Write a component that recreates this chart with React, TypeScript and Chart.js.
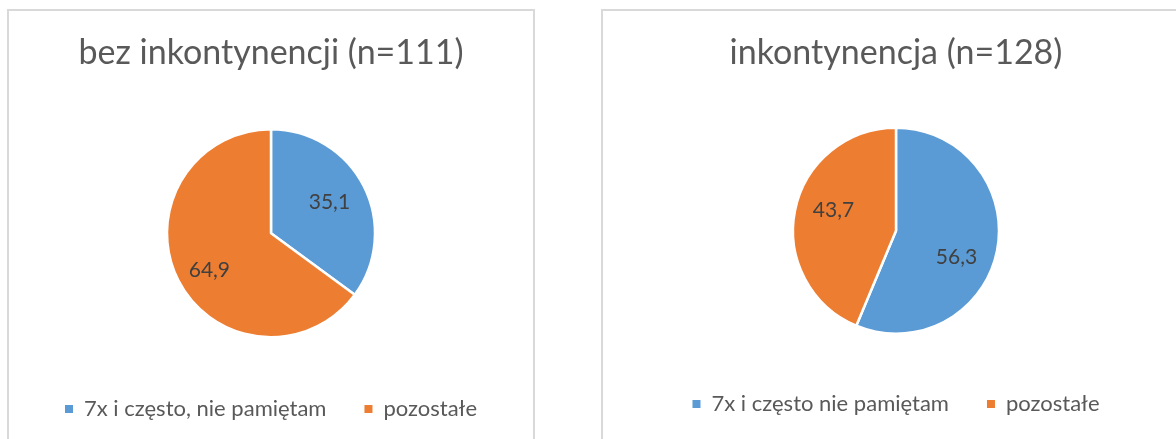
import React, { useEffect, useRef } from "react";
import { Chart, registerables } from "chart.js";

Chart.register(...registerables);

const leftTitle = "bez inkontynencji (n=111)";
const leftCategories = ["7x i często, nie pamiętam", "pozostałe"];
const leftValues = [35.1, 64.9];

const rightTitle = "inkontynencja (n=128)";
const rightCategories = ["7x i często nie pamiętam", "pozostałe"];
const rightValues = [56.3, 43.7];

const sliceColors = ["#5B9BD5", "#ED7D31"];

const FONT = "Lato, 'Open Sans', sans-serif";

// label placement per slice: [angle shift in degrees, fraction of radius]
type LabelPlace = { shift: number; frac: number };

const dataLabelPlugin = {
  id: "sliceLabels",
  afterDatasetsDraw(chart: any, _args: any, opts: any) {
    const ctx = chart.ctx;
    const meta = chart.getDatasetMeta(0);
    const values = chart.data.datasets[0].data as number[];
    const places: LabelPlace[] = (opts && opts.places) || [];
    ctx.save();
    ctx.font = `21px ${FONT}`;
    ctx.fillStyle = "#404040";
    ctx.textAlign = "center";
    ctx.textBaseline = "middle";
    meta.data.forEach((arc: any, i: number) => {
      const p = arc.getProps(["x", "y", "startAngle", "endAngle", "outerRadius"], true);
      const place = places[i] || { shift: 0, frac: 0.64 };
      const mid = (p.startAngle + p.endAngle) / 2 + (place.shift * Math.PI) / 180;
      const r = p.outerRadius * place.frac;
      const tx = p.x + Math.cos(mid) * r;
      const ty = p.y + Math.sin(mid) * r;
      ctx.fillText(values[i].toFixed(1).replace(".", ","), tx, ty);
    });
    ctx.restore();
  },
};

type PieProps = {
  title: string;
  categories: string[];
  values: number[];
  width: number;
  height: number;
  titlePadTop: number;
  titlePadBottom: number;
  legendPad: number;
  bottomPad: number;
  radius: number;
  places: LabelPlace[];
};

function PieChart(props: PieProps) {
  const ref = useRef<HTMLCanvasElement | null>(null);
  useEffect(() => {
    if (!ref.current) return;
    const baseGenerate = (Chart as any).overrides.pie.plugins.legend.labels.generateLabels;
    const chart = new Chart(ref.current, {
      type: "pie",
      data: {
        labels: props.categories,
        datasets: [
          {
            data: props.values,
            backgroundColor: sliceColors,
            borderColor: "#ffffff",
            borderWidth: 2.5,
            radius: props.radius,
          } as any,
        ],
      },
      plugins: [dataLabelPlugin],
      options: {
        animation: false,
        responsive: false,
        maintainAspectRatio: false,
        layout: { padding: { top: 0, left: 0, right: 0, bottom: props.bottomPad } },
        plugins: {
          sliceLabels: { places: props.places },
          title: {
            display: true,
            text: props.title,
            color: "#595959",
            font: { family: FONT, size: 34, weight: "normal" as any, lineHeight: 1.2 },
            padding: { top: props.titlePadTop, bottom: props.titlePadBottom },
          },
          legend: {
            display: true,
            position: "bottom",
            labels: {
              color: "#595959",
              font: { family: FONT, size: 22 },
              boxWidth: 8,
              boxHeight: 8,
              padding: props.legendPad,
              generateLabels: (c: any) =>
                baseGenerate(c).map((item: any) => ({ ...item, lineWidth: 0, strokeStyle: "rgba(0,0,0,0)" })),
            },
          },
          tooltip: { enabled: false },
        } as any,
      },
    });
    return () => chart.destroy();
  }, []);
  return <canvas ref={ref} width={props.width} height={props.height} style={{ display: "block", width: props.width, height: props.height }} />;
}

export default function App() {
  const boxStyle: React.CSSProperties = {
    position: "absolute",
    border: "2px solid #d9d9d9",
    background: "#ffffff",
    boxSizing: "border-box",
  };
  return (
    <div style={{ position: "fixed", left: 0, top: 0, width: 1176, height: 439, overflow: "hidden", background: "#ffffff" }}>
      <div style={{ ...boxStyle, left: 7, top: 9, width: 528, height: 470 }}>
        <PieChart
          title={leftTitle}
          categories={leftCategories}
          values={leftValues}
          width={524}
          height={428}
          titlePadTop={22}
          titlePadBottom={32.6}
          legendPad={38}
          bottomPad={9}
          radius={104}
          places={[{ shift: -1, frac: 0.635 }, { shift: -4, frac: 0.69 }]}
        />
      </div>
      <div style={{ ...boxStyle, left: 601, top: 9, width: 620, height: 470 }}>
        <PieChart
          title={rightTitle}
          categories={rightCategories}
          values={rightValues}
          width={586}
          height={428}
          titlePadTop={22}
          titlePadBottom={32.6}
          legendPad={38}
          bottomPad={14}
          radius={103}
          places={[{ shift: 12, frac: 0.64 }, { shift: 7, frac: 0.64 }]}
        />
      </div>
    </div>
  );
}
